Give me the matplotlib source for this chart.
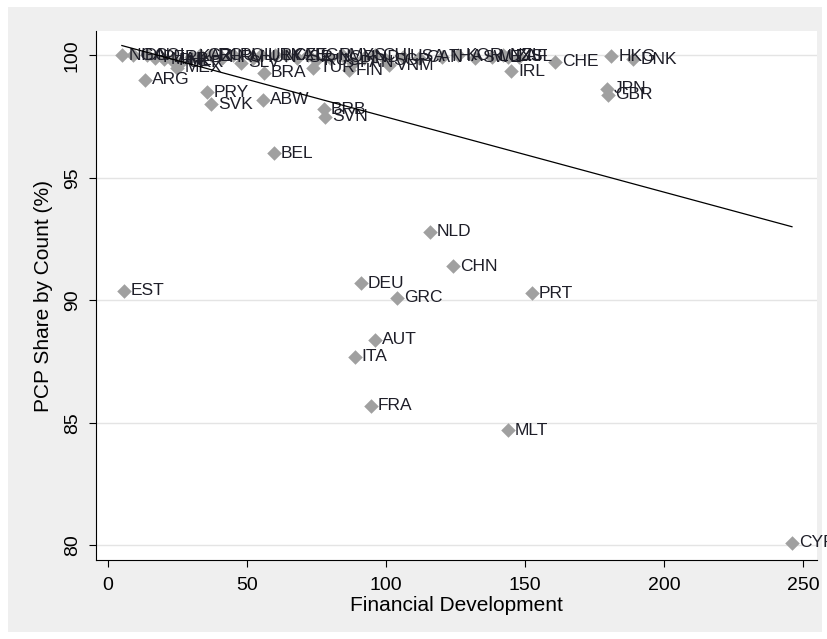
import numpy as np
import matplotlib.pyplot as plt
from matplotlib.patches import Rectangle

plt.rcParams['font.family'] = ['Liberation Sans', 'DejaVu Sans']

# land, finansiell utvikling, PCP-andel
countries = ['NGA', 'IDN', 'COL', 'PER', 'MAR', 'PHL', 'UKR', 'KAZ', 'CRI', 'ROU',
             'HRV', 'POL', 'SLV', 'HUN', 'URY', 'LKA', 'CZE', 'ISR', 'BGR', 'RUS',
             'NOR', 'MYS', 'PAN', 'IND', 'CHL', 'SGP', 'USA', 'CAN', 'THA', 'KOR',
             'SWE', 'LUX', 'NZL', 'ISL', 'ZAF',
             'MEX', 'ARG', 'PRY', 'SVK', 'ABW', 'BRA', 'BRB', 'SVN', 'BEL', 'TUR',
             'FIN', 'VNM', 'IRL', 'CHE', 'HKG', 'DNK', 'JPN', 'GBR',
             'EST', 'NLD', 'CHN', 'DEU', 'GRC', 'PRT', 'AUT', 'ITA', 'FRA', 'MLT', 'CYP']
fin_dev = [5.0, 9.0, 14.0, 17.0, 20.0, 23.0, 26.0, 30.0, 33.0, 37.0,
           41.0, 45.0, 48.0, 52.0, 55.0, 60.0, 64.0, 68.0, 72.0, 75.0,
           80.0, 84.0, 88.0, 92.0, 96.0, 100.0, 106.0, 112.0, 120.0, 126.0,
           132.0, 138.0, 142.0, 148.0, 144.0,
           25.0, 13.3, 35.6, 37.0, 55.8, 56.0, 77.7, 78.0, 59.7, 73.7,
           86.7, 101.0, 145.0, 160.8, 181.0, 189.0, 179.5, 180.0,
           5.8, 115.8, 124.0, 91.0, 104.0, 152.5, 96.0, 88.8, 94.6, 143.9, 246.0]
pcp_share = [100.0, 100.0, 100.0, 99.9, 99.85, 99.8, 99.7, 99.95, 100.0, 100.0,
             99.9, 100.0, 99.7, 99.9, 100.0, 100.0, 100.0, 99.9, 100.0, 99.8,
             99.9, 100.0, 99.7, 99.9, 100.0, 99.8, 99.95, 99.9, 99.95, 100.0,
             99.9, 99.95, 100.0, 99.95, 99.95,
             99.5, 99.0, 98.5, 98.0, 98.2, 99.3, 97.8, 97.5, 96.0, 99.5,
             99.4, 99.6, 99.35, 99.75, 99.96, 99.85, 98.65, 98.4,
             90.4, 92.8, 91.4, 90.7, 90.1, 90.3, 88.4, 87.7, 85.7, 84.7, 80.1]

# trendlinje
fit_slope = -0.0307
fit_intercept = 100.56
fit_range = [5.0, 246.0]

fig = plt.figure(figsize=(8.28, 6.39), dpi=100)
fig.patch.set_facecolor('white')
bg = Rectangle((8 / 828, 7 / 639), 814 / 828, 625 / 639, transform=fig.transFigure,
               facecolor='#efefef', edgecolor='none', zorder=-10)
fig.add_artist(bg)
ax = fig.add_axes([96 / 828, 79 / 639, 721 / 828, 529 / 639])
ax.set_facecolor('white')

ax.scatter(fin_dev, pcp_share, marker='D', s=55, color='#a0a0a0', zorder=3, linewidths=0)
for name, x, y in zip(countries, fin_dev, pcp_share):
    t = ax.annotate(name, (x, y), xytext=(5, 0), textcoords='offset points',
                    va='center', ha='left', fontsize=12.5, color='#1e1e28', zorder=4)
    t.set_clip_on(True)

xf = np.array(fit_range)
ax.plot(xf, fit_slope * xf + fit_intercept, color='black', lw=0.9, zorder=5)

ax.set_xlim(-4.3, 255)
ax.set_ylim(79.4, 101)
ax.set_xticks([0, 50, 100, 150, 200, 250])
ax.set_yticks([80, 85, 90, 95, 100])
ax.grid(axis='y', color='#e4e4e4', lw=1)
ax.set_axisbelow(True)
for s in ['top', 'right']:
    ax.spines[s].set_visible(False)
ax.tick_params(labelsize=14, length=5)
ax.tick_params(axis='x', pad=7)
ax.tick_params(axis='y', pad=6)
for lbl in ax.get_yticklabels():
    lbl.set_rotation(90)
    lbl.set_va('center')
ax.set_xlabel('Financial Development', fontsize=15, labelpad=2)
ax.set_ylabel('PCP Share by Count (%)', fontsize=15, labelpad=8)

fig.savefig('out.png', dpi=100)
